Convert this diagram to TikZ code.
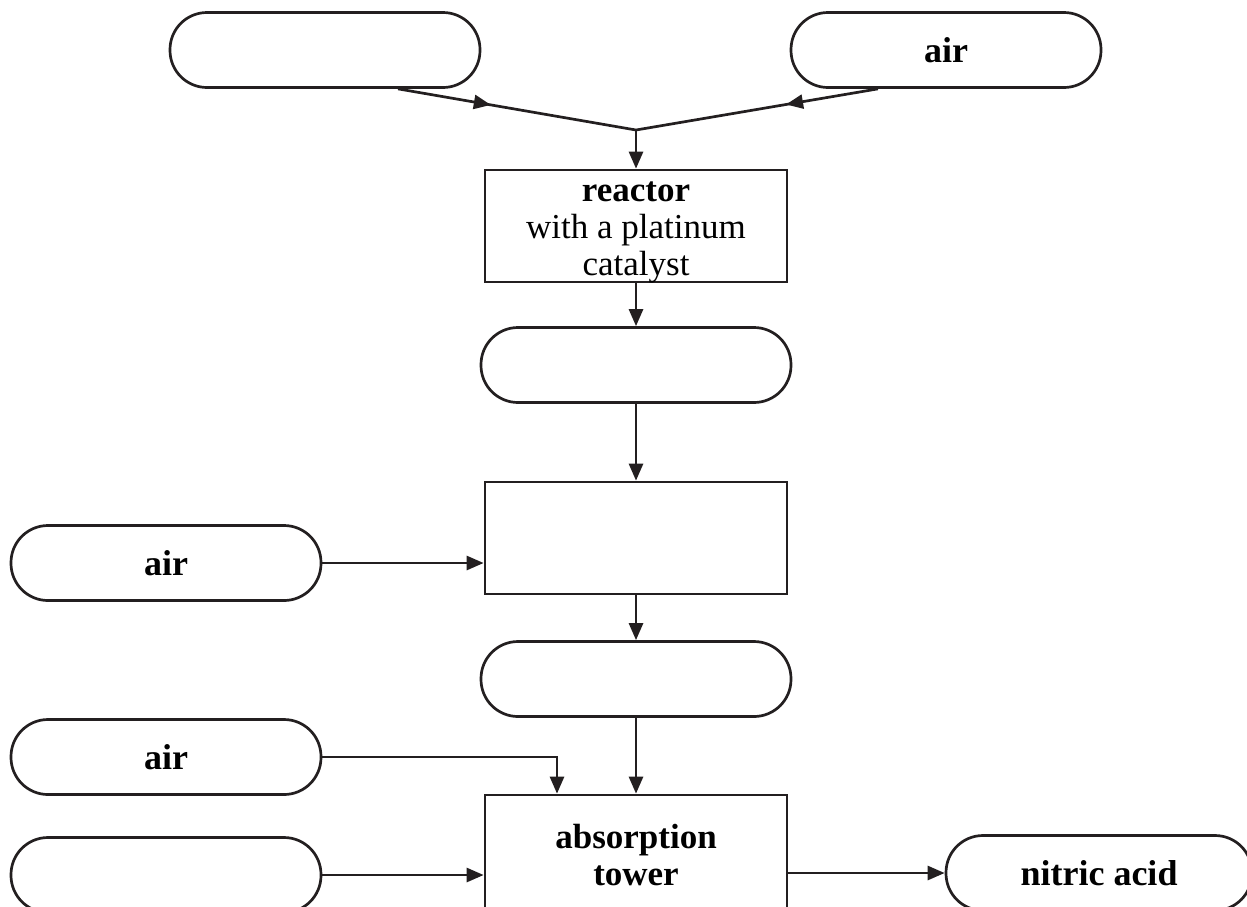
\documentclass[tikz,border=0pt]{standalone}
\usepackage{fontspec}
\setmainfont{Liberation Serif}
\usetikzlibrary{arrows.meta,decorations.markings,calc}
\begin{document}
\begin{tikzpicture}[x=1pt,y=-1pt,
  line width=2.7pt, draw={rgb,255:red,35;green,31;blue,32},
  font=\fontsize{35}{37.5}\selectfont,
  tip/.tip={Triangle[length=17pt,width=14pt]},
  term/.style={draw, rounded corners=37pt, minimum width=310pt, minimum height=75pt, inner sep=0pt, align=center, font=\fontsize{36}{37.5}\selectfont\bfseries},
  proc/.style={draw, minimum width=302pt, minimum height=112pt, inner sep=0pt, align=center},
  flow/.style={-tip},
  midarrow/.style={postaction={decorate}, decoration={markings, mark=at position #1 with {\arrow{tip}}}}
]
\useasboundingbox (0,0) rectangle (1247,906);
\clip (0,0) rectangle (1247,906);
\node[term] (t1) at (325,50) {};
\node[term] (tair) at (946,50) {air};
\node[proc] (reactor) at (636,226) {};
\node[align=center, inner sep=0pt, font=\fontsize{35}{37}\selectfont] (reactortext) at (636,232.5) {\textbf{reactor}\\with a platinum\\catalyst};
\node[term] (t3) at (636,365) {};
\node[proc] (box2) at (636,538) {};
\node[term] (airL) at (166,563) {air};
\node[term] (t4) at (636,679) {};
\node[term] (air2) at (166,757) {air};
\node[term] (t5) at (166,875) {};
\node[proc, minimum height=120pt] (absorb) at (636,855) {\textbf{absorption}\\\textbf{tower}};
\node[term, minimum width=306pt] (acid) at (1099,873) {nitric acid};
\coordinate (j) at (636,130);
\draw[midarrow=0.39] ([xshift=73pt]t1.south) -- (j);
\draw[midarrow=0.38] ([xshift=-68pt]tair.south) -- (j);
\draw[flow] (j) -- (reactor.north);
\draw[flow] (reactor.south) -- (t3.north);
\draw[flow] (t3.south) -- (box2.north);
\draw[flow] (airL.east) -- (airL.east -| box2.west);
\draw[flow] (box2.south) -- (t4.north);
\draw[flow] (t4.south) -- (absorb.north);
\draw[flow] (air2.east) -| ([xshift=-79pt]absorb.north);
\draw[flow] (t5.east) -- (t5.east -| absorb.west);
\draw[flow] (acid.west -| absorb.east) -- (acid.west);
\end{tikzpicture}
\end{document}
